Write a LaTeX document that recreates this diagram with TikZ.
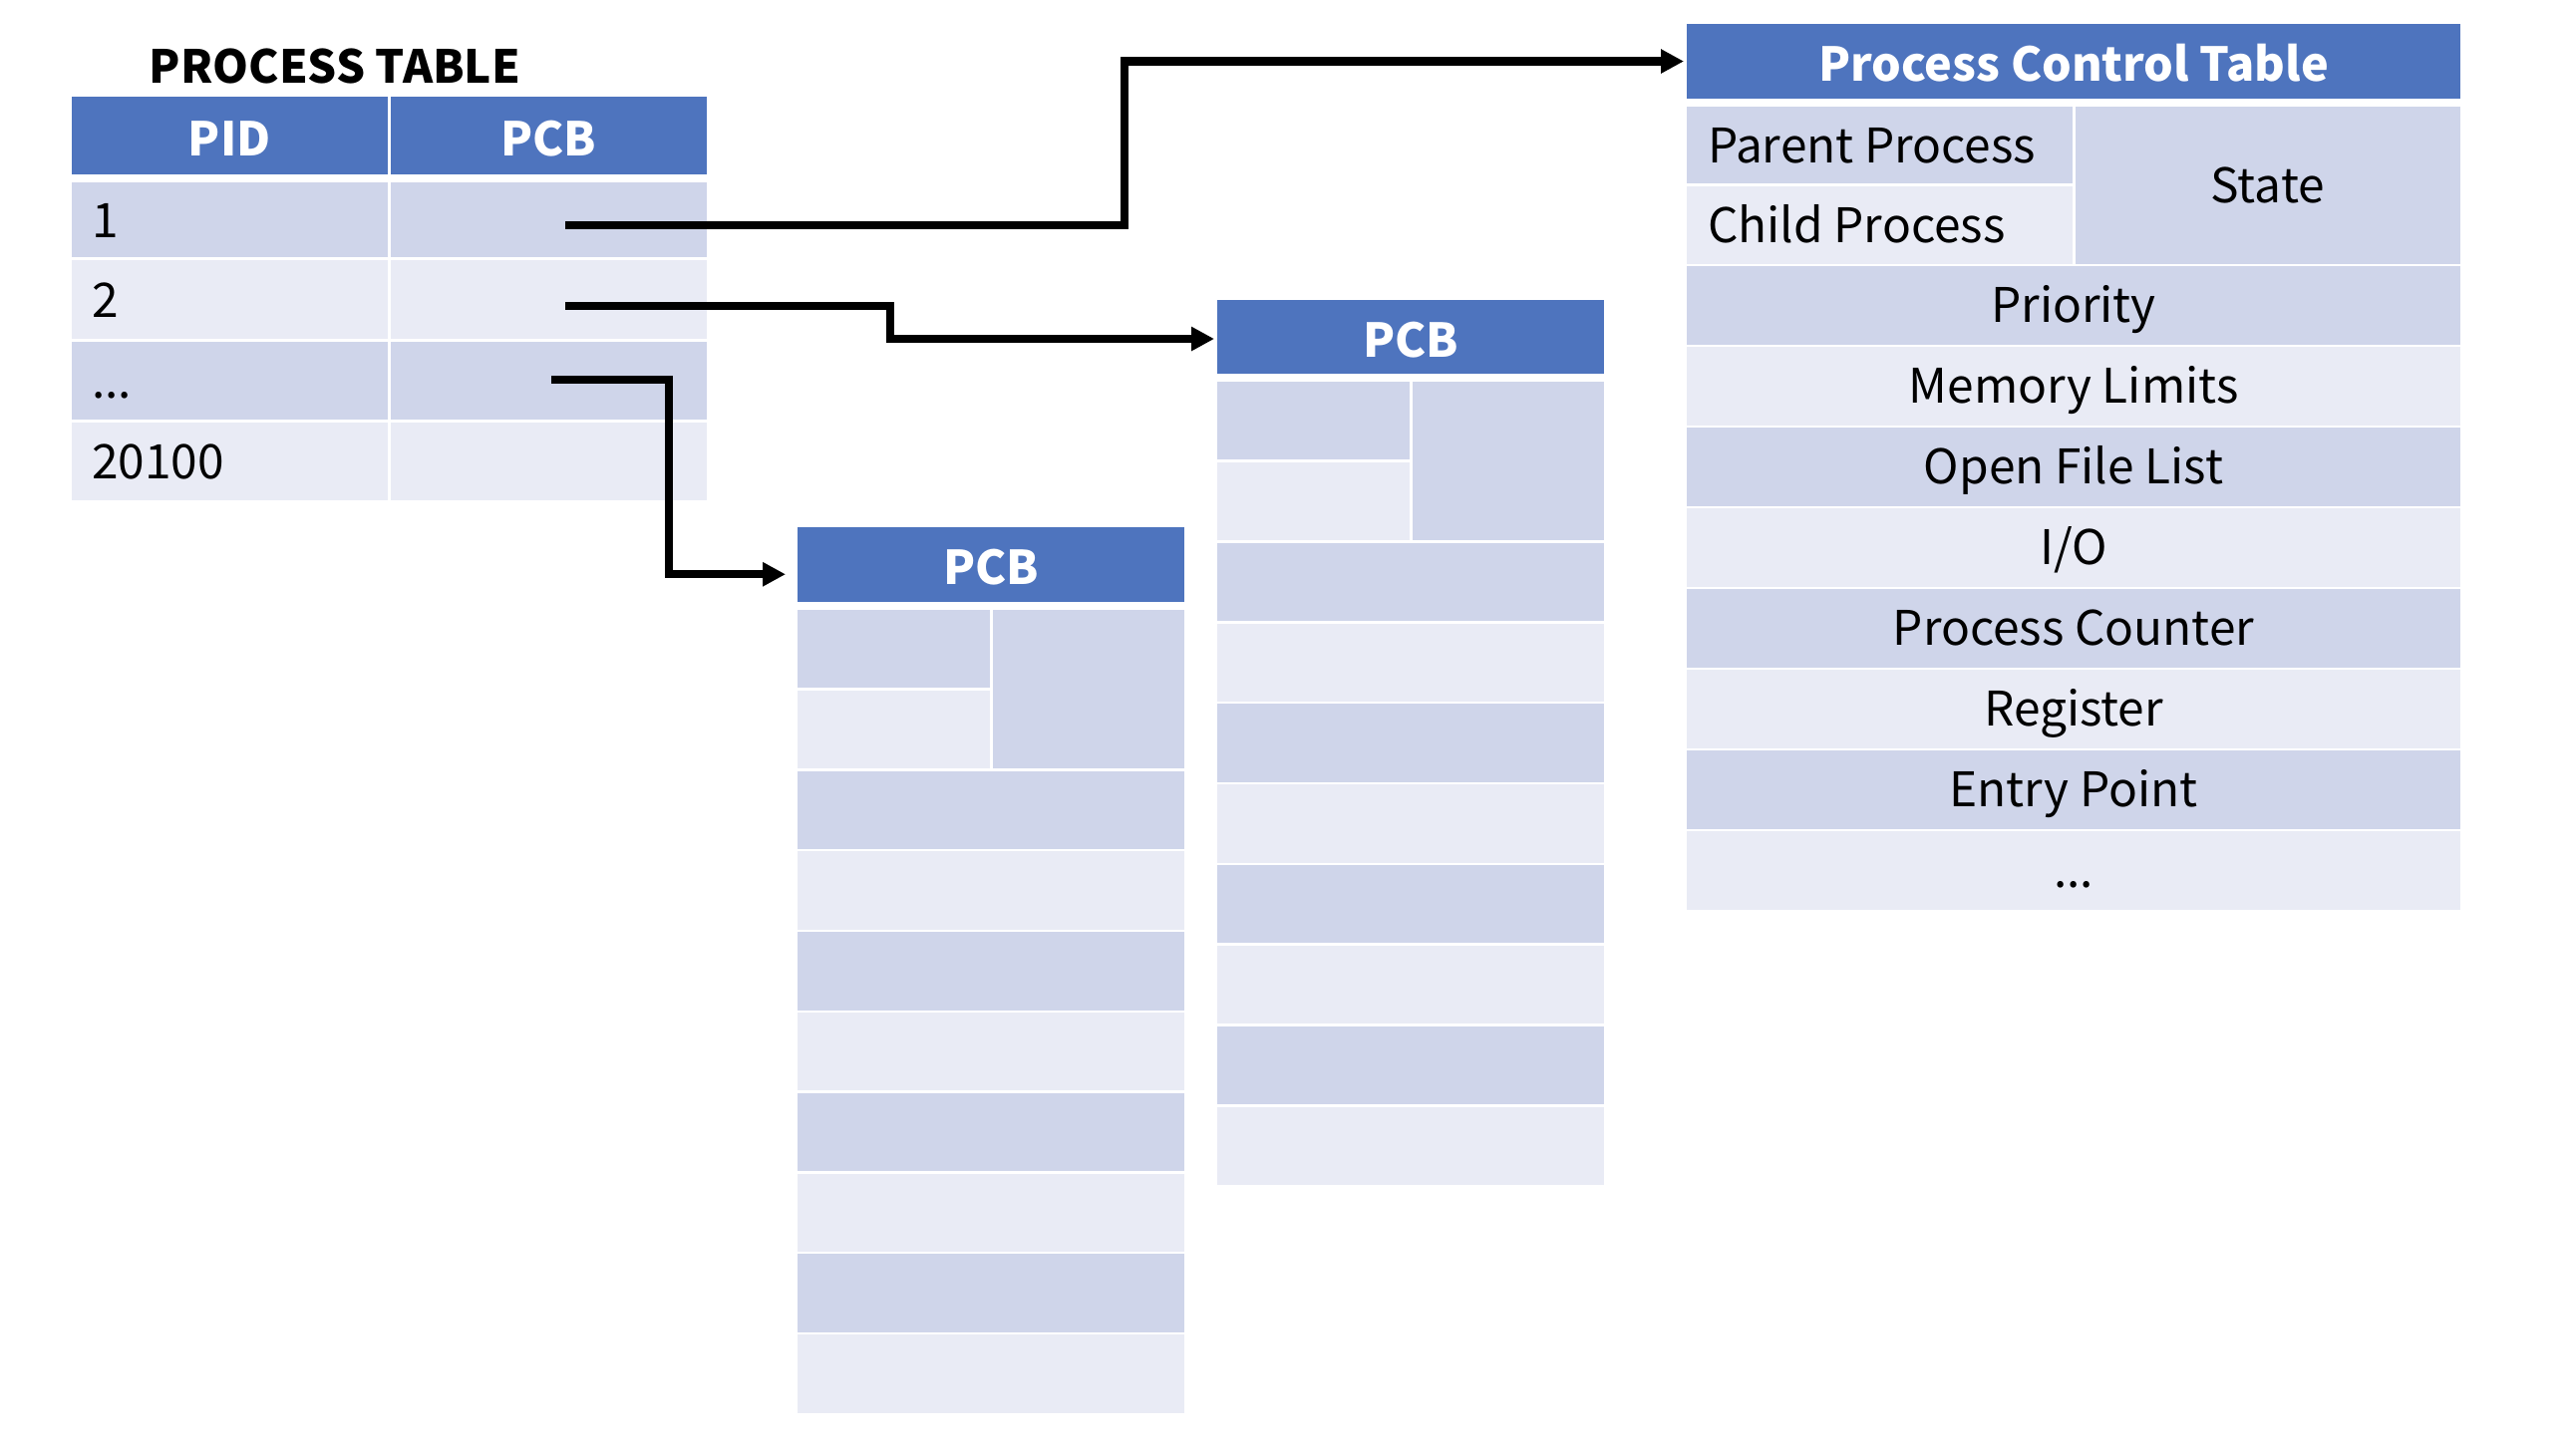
\documentclass[tikz,border=0pt]{standalone}
\usepackage{fontspec}
\setmainfont{Noto Sans CJK KR}
\usetikzlibrary{arrows.meta,fit}
\newdimen\px \px=0.01cm
\definecolor{hdr}{HTML}{4E74BE}
\definecolor{dk}{HTML}{CFD5EA}
\definecolor{lt}{HTML}{E9EBF5}
\newcommand\fs{\fontsize{13.6pt}{16pt}\selectfont}
\newcommand\fsb{\fontsize{13.3pt}{16pt}\selectfont\bfseries}
% plain cell: name, x1, y1, x2, y2, style
\newcommand\cell[6]{\node[#6, fit={(#2,#3) (#4,#5)}] (#1) {};}
% cell with centred text: name, x1, y1, x2, y2, style, text style, text
\newcommand\cellc[8]{\node[#6, fit={(#2,#3) (#4,#5)}] (#1) {};
  \node[txt, anchor=center, #7] (#1t) at (#1.center) {#8};}
\begin{document}
\begin{tikzpicture}[x=0.01cm, y=-0.01cm, font=\fs,
  tcell/.style={inner sep=0pt, outer sep=0pt, draw=none},
  hdc/.style={tcell, fill=hdr},
  dkc/.style={tcell, fill=dk},
  ltc/.style={tcell, fill=lt},
  txt/.style={inner sep=0pt, outer sep=0pt, text height=35\px, text depth=0pt, anchor=west},
  htxt/.style={text=white, font=\fsb, yshift=-2.5\px},
  btxt/.style={},
  conn/.style={line width=2.28pt, line join=miter, -{Triangle[length=6.5pt,width=6.5pt]}}]
\useasboundingbox (0,0) rectangle (2583,1460);
\fill[white] (0,0) rectangle (2583,1460);

% ---------- PROCESS TABLE ----------
\node[txt, anchor=center, font=\fontsize{13pt}{16pt}\selectfont\bfseries] (pttitle) at (336,65.5) {PROCESS TABLE};
\cellc{pth1}{72}{97}{388.5}{175}{hdc}{htxt}{PID}
\cellc{pth2}{391.5}{97}{709}{175}{hdc}{htxt}{PCB}
\cell{pt1a}{72}{183}{388.5}{258}{dkc}
\cell{pt1b}{391.5}{183}{709}{258}{dkc}
\cell{pt2a}{72}{261}{388.5}{340}{ltc}
\cell{pt2b}{391.5}{261}{709}{340}{ltc}
\cell{pt3a}{72}{342.5}{388.5}{421}{dkc}
\cell{pt3b}{391.5}{342.5}{709}{421}{dkc}
\cell{pt4a}{72}{423.5}{388.5}{502}{ltc}
\cell{pt4b}{391.5}{423.5}{709}{502}{ltc}
\node[txt] (pt1t) at ([xshift=20\px]pt1a.west) {1};
\node[txt] (pt2t) at ([xshift=20\px]pt2a.west) {2};
\node[txt] (pt3t) at ([xshift=20\px]pt3a.west) {...};
\node[txt] (pt4t) at ([xshift=20\px]pt4a.west) {20100};

% ---------- PROCESS CONTROL TABLE ----------
\cellc{pcth}{1692}{24}{2468}{99}{hdc}{htxt}{Process Control Table}
\cell{pcpar}{1692}{107}{2078.5}{184}{dkc}
\cell{pcchi}{1692}{186.5}{2078.5}{264.5}{ltc}
\cellc{pcsta}{2081.5}{107}{2468}{264.5}{dkc}{btxt}{State}
\node[txt] (pcpart) at ([xshift=21\px]pcpar.west) {Parent Process};
\node[txt] (pcchit) at ([xshift=21\px]pcchi.west) {Child Process};
\cellc{pcr1}{1692}{267}{2468}{345.5}{dkc}{btxt}{Priority}
\cellc{pcr2}{1692}{348}{2468}{426.5}{ltc}{btxt}{Memory Limits}
\cellc{pcr3}{1692}{429}{2468}{507.5}{dkc}{btxt}{Open File List}
\cellc{pcr4}{1692}{510}{2468}{588.5}{ltc}{btxt}{I/O}
\cellc{pcr5}{1692}{591}{2468}{669.5}{dkc}{btxt}{Process Counter}
\cellc{pcr6}{1692}{672}{2468}{750.5}{ltc}{btxt}{Register}
\cellc{pcr7}{1692}{753}{2468}{831.5}{dkc}{btxt}{Entry Point}
\cellc{pcr8}{1692}{834}{2468}{912.5}{ltc}{btxt}{...}

% ---------- middle PCB ----------
\cellc{pbh}{1221}{301}{1609}{375}{hdc}{htxt}{PCB}
\cell{pb1a}{1221}{383}{1413.5}{461.3}{dkc}
\cell{pb2a}{1221}{463.85}{1413.5}{542.15}{ltc}
\cell{pb1b}{1416.5}{383}{1609}{542.15}{dkc}
\cell{pb3}{1221}{544.7}{1609}{623}{dkc}
\cell{pb4}{1221}{625.55}{1609}{703.85}{ltc}
\cell{pb5}{1221}{706.4}{1609}{784.7}{dkc}
\cell{pb6}{1221}{787.25}{1609}{865.55}{ltc}
\cell{pb7}{1221}{868.1}{1609}{946.4}{dkc}
\cell{pb8}{1221}{948.95}{1609}{1027.25}{ltc}
\cell{pb9}{1221}{1029.8}{1609}{1108.1}{dkc}
\cell{pb10}{1221}{1110.65}{1609}{1188.95}{ltc}

% ---------- left PCB ----------
\cellc{pah}{800}{529}{1188}{603.5}{hdc}{htxt}{PCB}
\cell{pa1a}{800}{612}{992.5}{690.3}{dkc}
\cell{pa2a}{800}{692.8}{992.5}{771.1}{ltc}
\cell{pa1b}{995.5}{612}{1188}{771.1}{dkc}
\cell{pa3}{800}{773.6}{1188}{851.9}{dkc}
\cell{pa4}{800}{854.4}{1188}{932.7}{ltc}
\cell{pa5}{800}{935.2}{1188}{1013.5}{dkc}
\cell{pa6}{800}{1016}{1188}{1094.3}{ltc}
\cell{pa7}{800}{1096.8}{1188}{1175.1}{dkc}
\cell{pa8}{800}{1177.6}{1188}{1255.9}{ltc}
\cell{pa9}{800}{1258.4}{1188}{1336.7}{dkc}
\cell{pa10}{800}{1339.2}{1188}{1417.5}{ltc}

% ---------- connectors ----------
\coordinate (s1) at (567,225.8);
\coordinate (s2) at (567,307);
\coordinate (s3) at (553,381);
\draw[conn] (s1) -- (1128,225.8) |- ([xshift=-3\px]pcth.west);
\draw[conn] (s2) -- (892.7,307) |- ([xshift=-3\px,yshift=-2\px]pbh.west);
\draw[conn] (s3) -- (671,381) |- ([xshift=-12\px,yshift=-10\px]pah.west);
\end{tikzpicture}
\end{document}
